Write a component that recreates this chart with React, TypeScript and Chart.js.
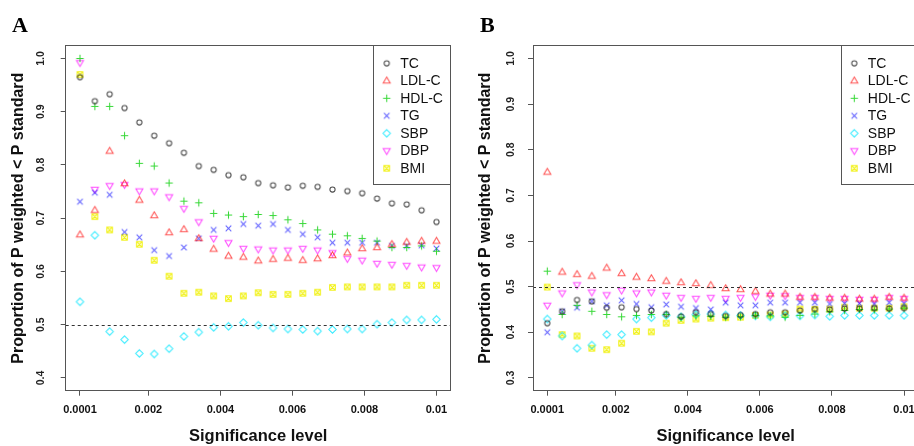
import React, { useEffect, useRef } from "react";
import { Chart, registerables } from "chart.js";

Chart.register(...registerables);

// ---------- data ----------
const SERIES_NAMES = ["TC", "LDL-C", "HDL-C", "TG", "SBP", "DBP", "BMI"];
const SIG_LEVELS = [
  0.0001, 0.0005125, 0.000925, 0.0013375, 0.00175, 0.0021625, 0.002575, 0.0029875,
  0.0034, 0.0038125, 0.004225, 0.0046375, 0.00505, 0.0054625, 0.005875, 0.0062875,
  0.0067, 0.0071125, 0.007525, 0.0079375, 0.00835, 0.0087625, 0.009175, 0.0095875, 0.01,
];
const X_TICKS = [0.0001, 0.002, 0.004, 0.006, 0.008, 0.01];
const X_TICK_LABELS = ["0.0001", "0.002", "0.004", "0.006", "0.008", "0.01"];
const A_Y_TICKS = [0.4, 0.5, 0.6, 0.7, 0.8, 0.9, 1.0];
const B_Y_TICKS = [0.3, 0.4, 0.5, 0.6, 0.7, 0.8, 0.9, 1.0];
const A_Y_LIMITS = [0.4, 1.0];
const B_Y_LIMITS = [0.3, 1.0];
const REFERENCE_LEVEL = 0.5;

const A_TC = [0.965, 0.920, 0.933, 0.907, 0.880, 0.855, 0.841, 0.823, 0.798, 0.791, 0.781, 0.777, 0.766, 0.762, 0.758, 0.761, 0.759, 0.754, 0.751, 0.747, 0.737, 0.728, 0.726, 0.715, 0.693];
const A_LDL = [0.669, 0.715, 0.826, 0.765, 0.734, 0.705, 0.673, 0.679, 0.662, 0.642, 0.629, 0.627, 0.620, 0.623, 0.625, 0.621, 0.624, 0.630, 0.635, 0.643, 0.645, 0.651, 0.655, 0.657, 0.657];
const A_HDL = [1.000, 0.910, 0.910, 0.855, 0.803, 0.798, 0.766, 0.732, 0.729, 0.709, 0.706, 0.703, 0.707, 0.705, 0.697, 0.690, 0.678, 0.670, 0.667, 0.662, 0.657, 0.645, 0.645, 0.648, 0.638];
const A_TG = [0.731, 0.748, 0.744, 0.674, 0.664, 0.640, 0.629, 0.645, 0.662, 0.678, 0.681, 0.689, 0.686, 0.689, 0.678, 0.670, 0.664, 0.654, 0.654, 0.654, 0.654, 0.648, 0.648, 0.649, 0.643];
const A_SBP = [0.543, 0.668, 0.487, 0.472, 0.446, 0.445, 0.455, 0.478, 0.486, 0.495, 0.497, 0.504, 0.499, 0.494, 0.492, 0.491, 0.488, 0.491, 0.492, 0.492, 0.501, 0.504, 0.509, 0.509, 0.510];
const A_DBP = [0.992, 0.754, 0.761, 0.763, 0.751, 0.751, 0.740, 0.718, 0.693, 0.662, 0.654, 0.643, 0.642, 0.640, 0.640, 0.643, 0.640, 0.635, 0.624, 0.621, 0.615, 0.613, 0.611, 0.608, 0.607];
const A_BMI = [0.970, 0.703, 0.678, 0.664, 0.651, 0.621, 0.591, 0.559, 0.561, 0.554, 0.549, 0.554, 0.560, 0.557, 0.557, 0.559, 0.561, 0.570, 0.571, 0.571, 0.571, 0.571, 0.574, 0.574, 0.574];

const B_TC = [0.420, 0.446, 0.471, 0.468, 0.454, 0.455, 0.451, 0.448, 0.440, 0.435, 0.444, 0.440, 0.436, 0.438, 0.440, 0.444, 0.444, 0.448, 0.451, 0.450, 0.452, 0.452, 0.453, 0.452, 0.453];
const B_LDL = [0.751, 0.532, 0.527, 0.523, 0.541, 0.529, 0.521, 0.518, 0.512, 0.509, 0.507, 0.503, 0.496, 0.494, 0.490, 0.484, 0.484, 0.477, 0.477, 0.475, 0.475, 0.473, 0.473, 0.477, 0.475];
const B_HDL = [0.534, 0.439, 0.459, 0.446, 0.439, 0.434, 0.437, 0.439, 0.439, 0.433, 0.436, 0.435, 0.433, 0.434, 0.437, 0.436, 0.433, 0.437, 0.440, 0.445, 0.448, 0.450, 0.449, 0.451, 0.453];
const B_TG = [0.400, 0.446, 0.454, 0.468, 0.459, 0.470, 0.462, 0.455, 0.461, 0.456, 0.453, 0.450, 0.465, 0.459, 0.459, 0.465, 0.465, 0.465, 0.465, 0.462, 0.463, 0.463, 0.462, 0.465, 0.463];
const B_SBP = [0.429, 0.392, 0.365, 0.372, 0.395, 0.395, 0.429, 0.432, 0.437, 0.434, 0.439, 0.440, 0.438, 0.437, 0.436, 0.434, 0.437, 0.436, 0.438, 0.435, 0.437, 0.437, 0.437, 0.437, 0.437];
const B_DBP = [0.459, 0.486, 0.504, 0.488, 0.482, 0.492, 0.486, 0.488, 0.481, 0.476, 0.474, 0.476, 0.474, 0.476, 0.478, 0.481, 0.480, 0.476, 0.476, 0.474, 0.474, 0.472, 0.472, 0.476, 0.474];
const B_BMI = [0.499, 0.395, 0.392, 0.365, 0.362, 0.376, 0.402, 0.401, 0.420, 0.426, 0.429, 0.431, 0.432, 0.433, 0.437, 0.438, 0.440, 0.451, 0.450, 0.451, 0.455, 0.453, 0.453, 0.453, 0.456];

// ---------- styles ----------
const SHAPES = ["circle", "triUp", "plus", "cross", "diamond", "triDown", "squareX"];
const COLORS = [
  "rgba(30,30,30,0.8)",
  "rgba(255,0,0,0.68)",
  "rgba(0,205,0,0.78)",
  "rgba(0,0,255,0.62)",
  "rgba(0,230,255,0.8)",
  "rgba(255,0,255,0.72)",
  "rgba(240,240,0,0.95)",
];
const SANS = '"Liberation Sans", Arial, sans-serif';
const SERIF = '"Liberation Serif", "Times New Roman", serif';

function makeMarker(shape: string, color: string): HTMLCanvasElement {
  const c = document.createElement("canvas");
  c.width = 13;
  c.height = 13;
  const g = c.getContext("2d")!;
  g.strokeStyle = color;
  g.lineWidth = 1.05;
  g.beginPath();
  const m = 6.5;
  switch (shape) {
    case "circle":
      g.arc(m, m, 2.6, 0, Math.PI * 2);
      break;
    case "triUp":
      g.moveTo(m, m - 3.8);
      g.lineTo(m + 3.5, m + 2.3);
      g.lineTo(m - 3.5, m + 2.3);
      g.closePath();
      break;
    case "triDown":
      g.moveTo(m, m + 3.8);
      g.lineTo(m + 3.5, m - 2.3);
      g.lineTo(m - 3.5, m - 2.3);
      g.closePath();
      break;
    case "plus":
      g.moveTo(m, m - 3.7);
      g.lineTo(m, m + 3.7);
      g.moveTo(m - 3.7, m);
      g.lineTo(m + 3.7, m);
      break;
    case "cross":
      g.moveTo(m - 2.8, m - 2.8);
      g.lineTo(m + 2.8, m + 2.8);
      g.moveTo(m + 2.8, m - 2.8);
      g.lineTo(m - 2.8, m + 2.8);
      break;
    case "diamond":
      g.moveTo(m, m - 3.7);
      g.lineTo(m + 3.7, m);
      g.lineTo(m, m + 3.7);
      g.lineTo(m - 3.7, m);
      g.closePath();
      break;
    case "squareX":
      g.rect(m - 2.8, m - 2.8, 5.6, 5.6);
      g.moveTo(m - 2.8, m - 2.8);
      g.lineTo(m + 2.8, m + 2.8);
      g.moveTo(m + 2.8, m - 2.8);
      g.lineTo(m - 2.8, m + 2.8);
      break;
  }
  g.stroke();
  return c;
}

function expand(lim: number[]) {
  const r = lim[1] - lim[0];
  return [lim[0] - 0.04 * r, lim[1] + 0.04 * r];
}

const X_RANGE = expand([SIG_LEVELS[0], SIG_LEVELS[SIG_LEVELS.length - 1]]);

type Panel = {
  letter: string;
  series: number[][];
  yTicks: number[];
  yLimits: number[];
  canvasLeft: number;
  canvasWidth: number;
  yAxisWidth: number;
  padRight: number;
  yTickPad: number;
  yTitlePad: number;
  letterX: number;
};

const PANELS: Panel[] = [
  {
    letter: "A",
    series: [A_TC, A_LDL, A_HDL, A_TG, A_SBP, A_DBP, A_BMI],
    yTicks: A_Y_TICKS,
    yLimits: A_Y_LIMITS,
    canvasLeft: 0,
    canvasWidth: 457,
    yAxisWidth: 65.7,
    padRight: 6.3,
    yTickPad: 12.3,
    yTitlePad: 10.3,
    letterX: 12,
  },
  {
    letter: "B",
    series: [B_TC, B_LDL, B_HDL, B_TG, B_SBP, B_DBP, B_BMI],
    yTicks: B_Y_TICKS,
    yLimits: B_Y_LIMITS,
    canvasLeft: 460,
    canvasWidth: 470,
    yAxisWidth: 73,
    padRight: 11.7,
    yTickPad: 10,
    yTitlePad: 18,
    letterX: 20,
  },
];

const H = 446;

const framePlugin = {
  id: "rframe",
  afterDatasetsDraw(chart: any) {
    const { ctx, chartArea } = chart;
    const ys = chart.scales.y;
    const yy = Math.round(ys.getPixelForValue(REFERENCE_LEVEL)) + 0.5;
    ctx.save();
    ctx.strokeStyle = "#333";
    ctx.lineWidth = 1;
    ctx.setLineDash([3, 3]);
    ctx.beginPath();
    ctx.moveTo(chartArea.left, yy);
    ctx.lineTo(chartArea.right, yy);
    ctx.stroke();
    ctx.restore();
  },
  afterDraw(chart: any) {
    const { ctx, chartArea } = chart;
    const opts = chart.options.plugins.rframe;
    ctx.save();
    // legend
    const w = 77;
    const h = 138.6;
    const left = chartArea.right - w;
    const top = chartArea.top;
    ctx.fillStyle = "#fff";
    ctx.fillRect(left, top, w, h);
    ctx.strokeStyle = "#555";
    ctx.lineWidth = 1;
    ctx.strokeRect(Math.floor(left) + 0.5, Math.floor(top) + 0.5, Math.round(w), Math.round(h));
    ctx.font = `14px ${SANS}`;
    ctx.fillStyle = "#111";
    ctx.textBaseline = "middle";
    ctx.textAlign = "left";
    chart.data.datasets.forEach((ds: any, i: number) => {
      const cy = top + 17.6 + i * 17.5;
      const m = ds.pointStyle as HTMLCanvasElement;
      ctx.drawImage(m, left + 13 - m.width / 2, cy - m.height / 2);
      ctx.fillText(ds.label, left + 26.5, cy + 0.5);
    });
    // plot box
    ctx.strokeStyle = "#555";
    const l = Math.floor(chartArea.left) + 0.5;
    const t = Math.floor(chartArea.top) + 0.5;
    const r = Math.floor(chartArea.right) + 0.5;
    const b = Math.floor(chartArea.bottom) + 0.5;
    ctx.strokeRect(l, t, r - l, b - t);
    // panel letter
    ctx.fillStyle = "#000";
    ctx.font = `bold 22px ${SERIF}`;
    ctx.textBaseline = "alphabetic";
    ctx.fillText(opts.letter, opts.letterX, 32);
    ctx.restore();
  },
};

function buildConfig(p: Panel): any {
  const markers = SHAPES.map((s, i) => makeMarker(s, COLORS[i]));
  const yRange = expand(p.yLimits);
  const datasets = p.series.map((vals, i) => ({
    label: SERIES_NAMES[i],
    data: SIG_LEVELS.map((x, j) => ({ x, y: vals[j] })),
    pointStyle: markers[i],
    pointRadius: 4,
    showLine: false,
    borderColor: COLORS[i],
    backgroundColor: "transparent",
  }));
  const tickFont = { family: SANS, size: 11, weight: "bold" as const };
  return {
    type: "scatter",
    data: { datasets },
    options: {
      responsive: false,
      animation: false,
      devicePixelRatio: 1,
      events: [],
      layout: { padding: { left: 0, top: 45.7, right: p.padRight, bottom: 0 } },
      plugins: {
        legend: { display: false },
        tooltip: { enabled: false },
        title: { display: false },
        rframe: { letter: p.letter, letterX: p.letterX },
      },
      scales: {
        x: {
          type: "linear",
          min: X_RANGE[0],
          max: X_RANGE[1],
          afterBuildTicks: (s: any) => {
            s.ticks = X_TICKS.map((v) => ({ value: v }));
          },
          afterFit: (s: any) => {
            s.height = H - 390.7;
          },
          ticks: {
            autoSkip: false,
            maxRotation: 0,
            minRotation: 0,
            padding: 8,
            color: "#111",
            font: tickFont,
            callback: (v: number) => {
              const k = X_TICKS.findIndex((t) => Math.abs(t - v) < 1e-9);
              return k >= 0 ? X_TICK_LABELS[k] : "";
            },
          },
          grid: { display: true, drawOnChartArea: false, drawTicks: true, tickLength: 5, color: "#555" },
          border: { display: false },
          title: {
            display: true,
            text: "Significance level",
            color: "#111",
            font: { family: SANS, size: 16.5, weight: "bold", lineHeight: 1 },
            padding: { top: 0, bottom: 1.3 },
          },
        },
        y: {
          type: "linear",
          min: yRange[0],
          max: yRange[1],
          afterBuildTicks: (s: any) => {
            s.ticks = p.yTicks.map((v) => ({ value: v }));
          },
          afterFit: (s: any) => {
            s.width = p.yAxisWidth;
          },
          ticks: {
            autoSkip: false,
            minRotation: 90,
            maxRotation: 90,
            crossAlign: "center",
            padding: p.yTickPad,
            color: "#222",
            font: { family: SANS, size: 10.5, weight: "bold" },
            callback: (v: number) => Number(v).toFixed(1),
          },
          grid: { display: true, drawOnChartArea: false, drawTicks: true, tickLength: 5, color: "#555" },
          border: { display: false },
          title: {
            display: true,
            text: "Proportion of P weighted < P standard",
            color: "#111",
            font: { family: SANS, size: 16, weight: "bold", lineHeight: 1 },
            padding: { top: p.yTitlePad, bottom: 0 },
          },
        },
      },
    },
    plugins: [framePlugin],
  };
}

function PanelChart({ panel }: { panel: Panel }) {
  const ref = useRef<HTMLCanvasElement>(null);
  useEffect(() => {
    if (!ref.current) return;
    const chart = new Chart(ref.current, buildConfig(panel));
    return () => chart.destroy();
  }, [panel]);
  return (
    <canvas
      ref={ref}
      width={panel.canvasWidth}
      height={H}
      style={{ position: "absolute", left: panel.canvasLeft, top: 0, width: panel.canvasWidth, height: H }}
    />
  );
}

export default function App() {
  return (
    <div
      style={{
        position: "fixed",
        left: 0,
        top: 0,
        width: 914,
        height: H,
        overflow: "hidden",
        background: "#fff",
      }}
    >
      {PANELS.map((p) => (
        <PanelChart key={p.letter} panel={p} />
      ))}
    </div>
  );
}
